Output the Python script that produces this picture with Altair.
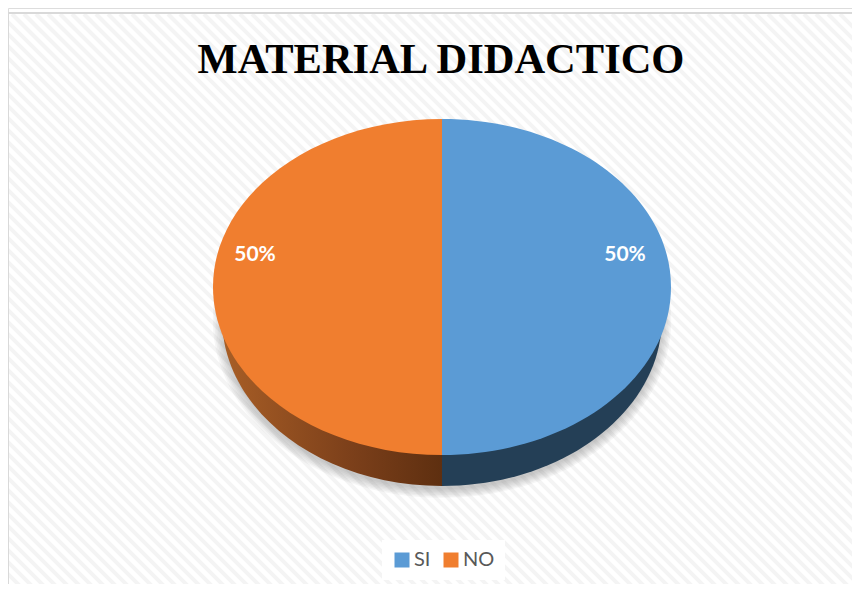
import math
import altair as alt
import pandas as pd

categories = ["SI", "NO"]
shares = [50, 50]
labels = ["50%", "50%"]
slice_colors = ["#5B9BD5", "#F07E2F"]

W, H = 844, 576
CX, CY = 434, 279          # pie centre inside the plot
RX, RY = 229, 168          # top face radii
DEPTH = 31

def ellipse_xy(frac, rx, ry):
    a = 2 * math.pi * frac
    return rx * math.sin(a), -ry * math.cos(a)

def wedge(start, end, rx=RX, ry=RY):
    x0, y0 = ellipse_xy(start, rx, ry)
    x1, y1 = ellipse_xy(end, rx, ry)
    large = 1 if end - start > 0.5 else 0
    return f"M0,0L{x0:.2f},{y0:.2f}A{rx},{ry} 0 {large} 1 {x1:.2f},{y1:.2f}Z"

total = sum(shares)
paths, cum = [], 0
for s in shares:
    paths.append(wedge(cum / total, (cum + s) / total))
    cum += s

df = pd.DataFrame({"category": categories, "share": shares, "label": labels})
one = pd.DataFrame({"k": [0]})

# background texture and frame
offsets = list(range(-584, W, 12))
stripes = pd.DataFrame({"x0": offsets, "x1": [o + 579 for o in offsets], "y0": [6] * len(offsets), "y1": [585] * len(offsets)})
sx = alt.Scale(domain=[0, W], range=[0, W])
sy = alt.Scale(domain=[0, H], range=[0, H])
bg = alt.Chart(stripes).mark_rule(color="#F4F4F4", strokeWidth=4, clip=True).encode(
    x=alt.X("x0:Q", scale=sx, axis=None), x2="x1:Q",
    y=alt.Y("y0:Q", scale=sy, axis=None), y2="y1:Q",
)
frame_l = alt.Chart(one).mark_rect(color="#D9D9D9").encode(
    x=alt.value(0), x2=alt.value(1), y=alt.value(4), y2=alt.value(H))
frame_t = alt.Chart(one).mark_rect(color="#D9D9D9").encode(
    x=alt.value(0), x2=alt.value(W), y=alt.value(4), y2=alt.value(6))

def blob(rx, ry, opacity, dy):
    p = f"M{-rx},0A{rx},{ry} 0 1 1 {rx},0A{rx},{ry} 0 1 1 {-rx},0Z"
    return alt.Chart(one).mark_point(filled=True, size=4, color="#808080", opacity=opacity, strokeWidth=0).encode(
        x=alt.value(CX), y=alt.value(CY + dy), shape=alt.value(p))

shadow = [blob(218 + k * 1.6, 168 + k * 1.4, 0.07, 33) for k in range(1, 8)]

def side(path, fill):
    return alt.Chart(one).mark_point(filled=True, size=4, fill=fill, opacity=1, strokeWidth=0).encode(
        x=alt.value(CX), y=alt.value(CY), shape=alt.value(path))

side_rx = 220
side_si = side(f"M0,0L{side_rx},{DEPTH}A{side_rx},{RY} 0 0 1 0,{RY + DEPTH}Z", "#243F56")
grad = alt.LinearGradient(gradient="linear", x1=0, x2=1, y1=0, y2=0,
                          stops=[alt.GradientStop(color="#A85E26", offset=0),
                                 alt.GradientStop(color="#7B3F1A", offset=0.6),
                                 alt.GradientStop(color="#5E2F10", offset=1)])
side_no = side(f"M0,0L{-side_rx},{DEPTH}A{side_rx},{RY} 0 0 0 0,{RY + DEPTH}Z", grad)

slice_layers = []
for cat, p, col in zip(categories, paths, slice_colors):
    slice_layers.append(
        alt.Chart(df).transform_filter(alt.datum.category == cat).mark_point(
            filled=True, size=4, opacity=1, strokeWidth=0, color=col
        ).encode(x=alt.value(CX), y=alt.value(CY), shape=alt.value(p)))

legend_layer = alt.Chart(df).mark_square(size=0, opacity=1).encode(
    x=alt.value(CX), y=alt.value(CY),
    color=alt.Color("category:N", scale=alt.Scale(domain=categories, range=slice_colors), legend=alt.Legend(
        title=None, orient="none", legendX=374, legendY=532, direction="horizontal",
        symbolType="square", symbolSize=225, symbolStrokeWidth=0, symbolOpacity=1,
        labelFont="Lato", labelFontSize=20, labelColor="#595959", labelOffset=2,
        columnPadding=10, fillColor="white", padding=10)),
)

label_x = [617, 247]
text_layers = []
for cat, lx in zip(categories, label_x):
    text_layers.append(
        alt.Chart(df).transform_filter(alt.datum.category == cat).mark_text(
            font="Lato", fontSize=21, fontWeight="bold", color="white", align="center", baseline="middle"
        ).encode(x=alt.value(lx), y=alt.value(247), text="label:N"))

chart = alt.layer(bg, *shadow, side_si, side_no, *slice_layers, legend_layer, *text_layers, frame_l, frame_t).properties(
    width=W, height=H, padding=0, autosize=alt.AutoSizeParams(type="none"),
    title=alt.TitleParams("MATERIAL DIDACTICO", font="Liberation Serif", fontSize=42.5, fontWeight="bold",
                          color="black", anchor="middle", dx=11, dy=77),
).configure_view(stroke=None).configure(background="white")

chart.save("out.html", embed_options={"renderer": "svg", "actions": False})
